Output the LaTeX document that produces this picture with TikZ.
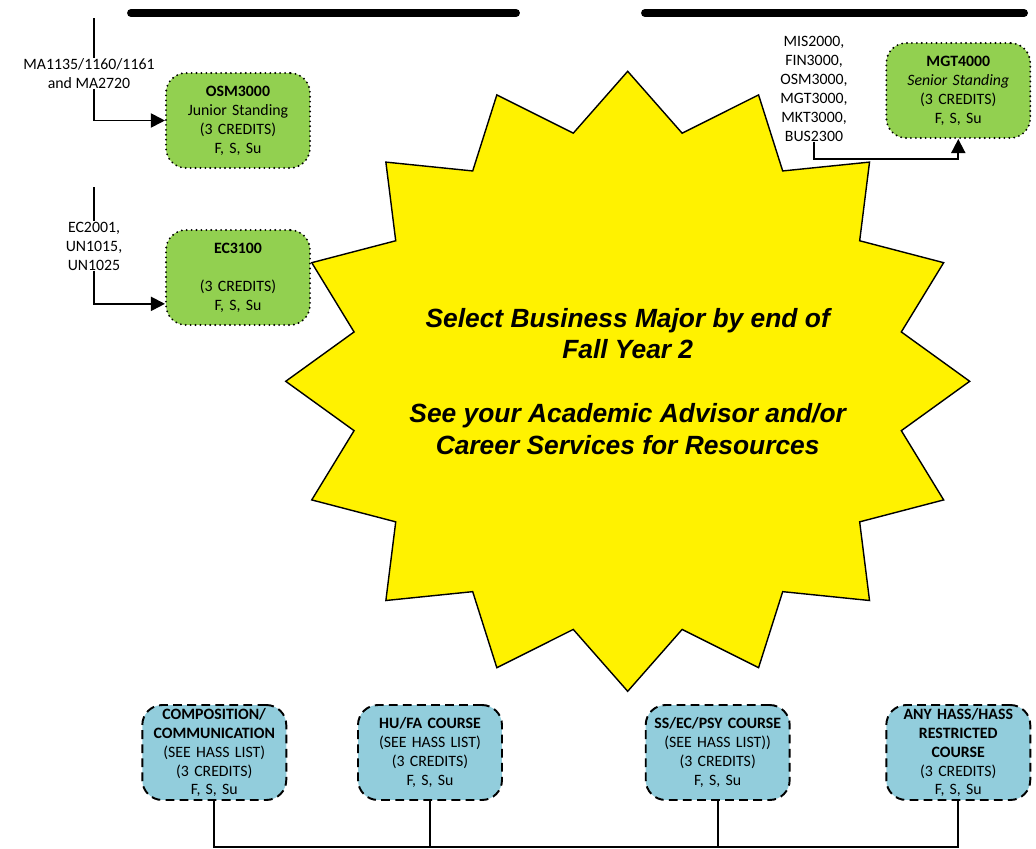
\documentclass[tikz,border=0pt]{standalone}
\usepackage{fontspec}
\setmainfont{Carlito}
\newfontfamily\arialfont{Liberation Sans}
\usetikzlibrary{arrows.meta}
\definecolor{courseGreen}{HTML}{92D050}
\definecolor{hassBlue}{HTML}{92CDDC}

\begin{document}
\begin{tikzpicture}[
    x=0.02cm, y=-0.02cm,
    every node/.style={font=\fontsize{9}{10.8}\selectfont, align=center},
    course/.style={rounded corners=0.4cm, minimum width=2.88cm, minimum height=1.9cm, inner sep=0pt, text width=2.7cm},
    core/.style={course, fill=courseGreen, draw=black, line width=1.2pt, dash pattern=on 0pt off 2.8pt, line cap=round},
    hass/.style={course, fill=hassBlue, draw=black, line width=1.1pt, dash pattern=on 5pt off 3pt},
    prereq/.style={inner sep=0pt},
    link line/.style={line width=1.1pt},
    arrow line/.style={link line, -{Triangle[length=8pt,width=8pt]}},
    bar line/.style={line width=4.5pt, line cap=round},
    star line/.style={fill=yellow, draw=black, line width=0.8pt}
    ]
    \useasboundingbox (0,0) rectangle (1036,849);

    % top bars
    \draw[bar line] (131,13) -- (516,13);
    \draw[bar line] (645,13) -- (1024,13);

    % star
    \coordinate (star) at (627.7,381.3);
    \draw[star line] ([shift={(0:342 and 310)}]star)
        \foreach \a in {0,22.5,...,337.5}{
            -- ([shift={(\a+11.25:279 and 253)}]star)
            -- ([shift={(\a+22.5:342 and 310)}]star)} -- cycle;
    \node[font=\arialfont\bfseries\itshape\fontsize{15}{18.1}\selectfont] (msg) at (star)
        {Select Business Major by end of\\Fall Year 2\\[18.1pt]See your Academic Advisor and/or\\Career Services for Resources};

    % business core
    \node[core] (osm) at (238,120.5) {\textbf{OSM3000}\\Junior Standing\\(3 CREDITS)\\F, S, Su};
    \node[core] (ec) at (238,277.5) {\textbf{EC3100}\\[10.8pt](3 CREDITS)\\F, S, Su};
    \node[core] (mgt) at (958.3,90.5) {\textbf{MGT4000}\\\textit{Senior Standing}\\(3 CREDITS)\\F, S, Su};

    % prerequisites
    \coordinate (ma top) at (94,18);
    \node[prereq] (ma) at (89,73.5) {MA1135/1160/1161\\and MA2720};
    \draw[link line] (ma top) -- (ma top |- ma.north);
    \draw[arrow line] (ma top |- ma.south) |- (osm.west);

    \coordinate (econ top) at (94,187);
    \node[prereq] (econ) at (94,246) {EC2001,\\UN1015,\\UN1025};
    \draw[link line] (econ top) -- (econ.north);
    \draw[arrow line] (econ.south) |- ([yshift=-15pt]ec.west);

    \node[prereq] (mgtreq) at (814,88.7) {MIS2000,\\FIN3000,\\OSM3000,\\MGT3000,\\MKT3000,\\BUS2300};
    \draw[arrow line] (mgtreq.south) -- ++(0,17) -| (mgt.south);

    % hass courses
    \node[hass] (comp) at (214.3,752.5) {\textbf{COMPOSITION/}\\\textbf{COMMUNICATION}\\(SEE HASS LIST)\\(3 CREDITS)\\F, S, Su};
    \node[hass] (hufa) at (430,752.5) {\textbf{HU/FA COURSE}\\(SEE HASS LIST)\\(3 CREDITS)\\F, S, Su};
    \node[hass] (ssec) at (717.7,752.5) {\textbf{SS/EC/PSY COURSE}\\(SEE HASS LIST))\\(3 CREDITS)\\F, S, Su};
    \node[hass] (anyhass) at (958.3,752.5) {\textbf{ANY HASS/HASS}\\\textbf{RESTRICTED}\\\textbf{COURSE}\\(3 CREDITS)\\F, S, Su};

    \coordinate (bus) at (214.3,846.7);
    \draw[link line] (comp.south) |- (anyhass.south |- bus) -- (anyhass.south);
    \draw[link line] (hufa.south) -- (hufa.south |- bus);
    \draw[link line] (ssec.south) -- (ssec.south |- bus);

\end{tikzpicture}
\end{document}
